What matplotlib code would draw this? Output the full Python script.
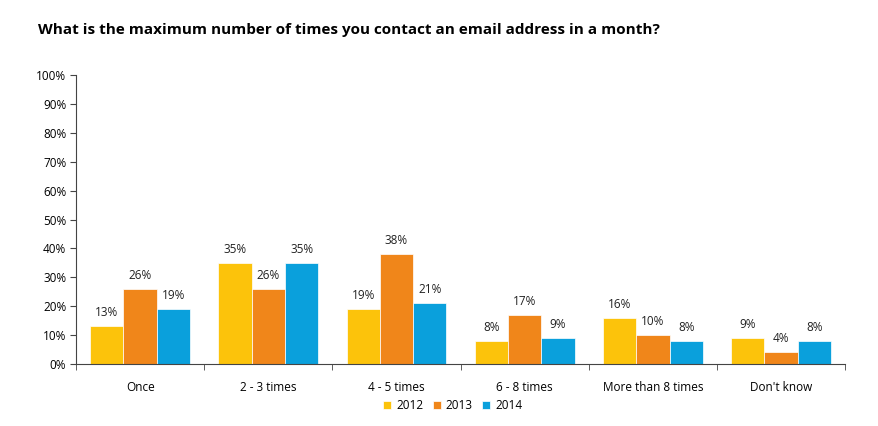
import matplotlib
matplotlib.use("Agg")
import matplotlib.pyplot as plt
import numpy as np

plt.rcParams["font.family"] = "Open Sans"

categories = ["Once", "2 - 3 times", "4 - 5 times", "6 - 8 times", "More than 8 times", "Don't know"]
s2012 = [13, 35, 19, 8, 16, 9]
s2013 = [26, 26, 38, 17, 10, 4]
s2014 = [19, 35, 21, 9, 8, 8]
years = ["2012", "2013", "2014"]
colors = ["#FCC30B", "#F0861A", "#0AA0DC"]

fig = plt.figure(figsize=(8.79, 4.26), dpi=100)
ax = fig.add_axes([0.0865, 0.1455, 0.875, 0.678])
x = np.arange(len(categories))
w = 0.26
for i, (vals, c, lab) in enumerate(zip([s2012, s2013, s2014], colors, years)):
    bars = ax.bar(x + (i - 1) * w, vals, w, color=c, label=lab, edgecolor="white", linewidth=0.5)
    for b, v in zip(bars, vals):
        ax.text(b.get_x() + b.get_width() / 2, v + 2.5, f"{v}%", ha="center", va="bottom", fontsize=8.5, color="#222")

ax.set_xlim(-0.5, len(categories) - 0.5)
ax.set_ylim(0, 100)
ax.set_yticks(range(0, 101, 10))
ax.set_yticklabels([f"{v}%" for v in range(0, 101, 10)], fontsize=8.5)
ax.set_xticks(x)
ax.set_xticklabels(categories, fontsize=8.5)
ax.set_xticks(np.arange(-0.5, len(categories), 1), minor=True)
ax.tick_params(axis="x", which="major", length=0, pad=12)
ax.tick_params(axis="x", which="minor", length=4, color="#444")
ax.tick_params(axis="y", length=4, color="#444", pad=3)
for s in ["top", "right"]:
    ax.spines[s].set_visible(False)
for s in ["left", "bottom"]:
    ax.spines[s].set_color("#444")
    ax.spines[s].set_linewidth(0.8)

fig.text(0.043, 0.93, "What is the maximum number of times you contact an email address in a month?",
         fontsize=11, fontweight="bold", ha="left", va="center")
fig.legend(loc="center", bbox_to_anchor=(0.515, 0.047), ncol=3, frameon=False, fontsize=8.5,
           handlelength=0.7, handleheight=0.7, handletextpad=0.4, columnspacing=0.8)
fig.savefig("out.png", dpi=100)
